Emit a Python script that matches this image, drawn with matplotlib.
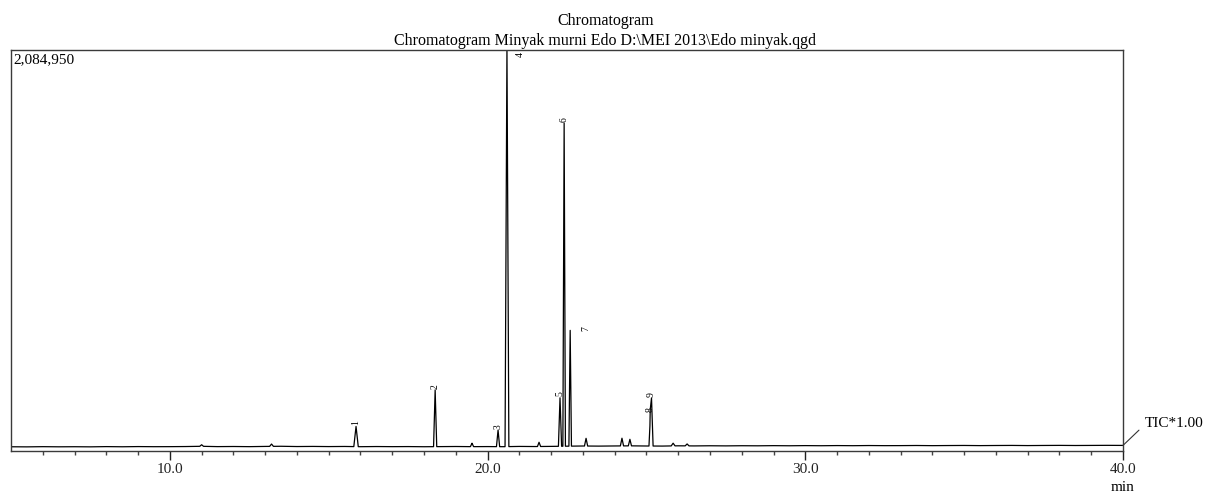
import numpy as np
import matplotlib
matplotlib.use("Agg")
import matplotlib.pyplot as plt

# baseline of the TIC trace (min, counts)
base_t = [5.0, 5.5, 6.0, 6.5, 7.0, 7.5, 8.0, 8.5, 9.0, 9.5, 10.0, 10.5, 11.0, 11.5,
          12.0, 12.5, 13.0, 13.5, 14.0, 14.5, 15.0, 15.5, 16.0, 16.5, 17.0, 17.5,
          18.0, 18.5, 19.0, 19.5, 20.0, 20.5, 21.0, 21.5, 22.0, 22.5, 23.0, 23.5,
          24.0, 24.5, 25.0, 25.5, 26.0, 26.5, 27.0, 27.5, 28.0, 28.5, 29.0, 29.5,
          30.0, 30.5, 31.0, 31.5, 32.0, 32.5, 33.0, 33.5, 34.0, 34.5, 35.0, 35.5,
          36.0, 36.5, 37.0, 37.5, 38.0, 38.5, 39.0, 39.5, 40.0]
base_y = [22000, 21500, 22500, 21800, 22200, 21600, 22800, 22000, 23000, 22400,
          22600, 23200, 24500, 22800, 23400, 22600, 23800, 24600, 23200, 23800,
          23000, 23600, 22400, 23200, 22600, 23000, 22200, 22800, 23400, 22600,
          23000, 22400, 23800, 23200, 24000, 25000, 26000, 25400, 26200, 26800,
          26000, 25600, 27000, 26400, 27200, 26600, 27400, 27000, 27800, 27200,
          28000, 27400, 28200, 27600, 28400, 27800, 28000, 28600, 27800, 28400,
          28800, 28000, 28600, 29000, 28200, 28800, 29200, 28600, 29000, 29400,
          29000]

# peaks: retention time, height above baseline, half base width, label
peak_rt = [11.0, 13.2, 15.86, 18.35, 19.51, 20.33, 20.61, 21.62, 22.28, 22.41,
           22.60, 23.10, 24.23, 24.48, 25.12, 25.16, 25.84, 26.28]
peak_h = [8000, 12000, 105000, 295000, 18000, 86000, 2080000, 22000, 252000,
          1680000, 602000, 40000, 40000, 34000, 140000, 250000, 14000, 10000]
peak_w = [0.06, 0.06, 0.07, 0.05, 0.05, 0.05, 0.06, 0.05, 0.05, 0.04,
          0.04, 0.05, 0.05, 0.05, 0.04, 0.05, 0.06, 0.06]
peak_lab = ['', '', '1', '2', '', '3', '4', '', '5', '6',
            '7', '', '', '', '8', '9', '', '']

ymax = 2084950
xmin, xmax = 5.0, 40.0

# trace nodes: baseline samples plus start/apex/end of each peak
nodes = list(base_t)
for rt, w in zip(peak_rt, peak_w):
    nodes += [rt - w, rt, rt + w]
nodes = np.unique(np.array(nodes))
trace = np.interp(nodes, base_t, base_y)
for rt, h, w in zip(peak_rt, peak_h, peak_w):
    trace = trace + np.interp(nodes, [rt - w, rt, rt + w], [0, h, 0])

serif = ['Liberation Serif', 'DejaVu Serif']
plt.rcParams['font.family'] = serif

fig = plt.figure(figsize=(12.11, 4.95), dpi=100)
ax = fig.add_axes([11 / 1211, 44 / 495, 1112 / 1211, 401 / 495])

ax.plot(nodes, trace, color='black', lw=0.9)
ax.set_xlim(xmin, xmax)
ax.set_ylim(0, ymax)

for sp in ax.spines.values():
    sp.set_color('#3a3a3a')
    sp.set_linewidth(1.0)

ax.set_yticks([])
ax.set_xticks([10, 20, 30, 40])
ax.set_xticklabels(['10.0', '20.0', '30.0', '40.0'], fontsize=11)
ax.set_xticks(np.arange(6, 40, 1), minor=True)
ax.tick_params(axis='x', which='major', length=6.5, width=1, direction='out',
               pad=2, colors='#222222')
ax.tick_params(axis='x', which='minor', length=3, width=1, direction='out',
               colors='#444444')

# peak numbers
for rt, h, lab in zip(peak_rt, peak_h, peak_lab):
    if not lab:
        continue
    top = np.interp(rt, nodes, trace)
    yy = min(top, ymax)
    dx, dy, va = 0, 1.0, 'bottom'
    if lab == '4':
        dx, dy, va = 9.5, -3.5, 'center'
    elif lab == '7':
        dx, dy, va = 11, 1, 'center'
    elif lab == '8':
        dx, dy, va = 0, 0, 'center'
    ax.annotate(lab, xy=(rt, yy), xytext=(dx, dy), textcoords='offset points',
                rotation=90, ha='center', va=va, fontsize=7,
                annotation_clip=False)

ax.text(0.002, 0.993, '2,084,950', transform=ax.transAxes, ha='left', va='top',
        fontsize=11)

# TIC tag at the end of the trace
yend = trace[-1]
ax.annotate('', xy=(xmax, yend), xytext=(11.5, 11), textcoords='offset points',
            arrowprops=dict(arrowstyle='-', lw=0.8, color='#333333',
                            shrinkA=0, shrinkB=0),
            annotation_clip=False)
ax.annotate('TIC*1.00', xy=(xmax, yend), xytext=(15.5, 16),
            textcoords='offset points', ha='left', va='center', fontsize=11,
            annotation_clip=False)

ax.text(1.0, -0.092, 'min', transform=ax.transAxes, ha='center', va='center',
        fontsize=11)

fig.text(0.5, 1 - 21 / 495, 'Chromatogram', ha='center', va='center',
         fontsize=11.5)
fig.text(0.5, 1 - 41 / 495,
         'Chromatogram Minyak murni Edo D:\\MEI 2013\\Edo minyak.qgd',
         ha='center', va='center', fontsize=11.5)

fig.savefig('out.png', dpi=100)
